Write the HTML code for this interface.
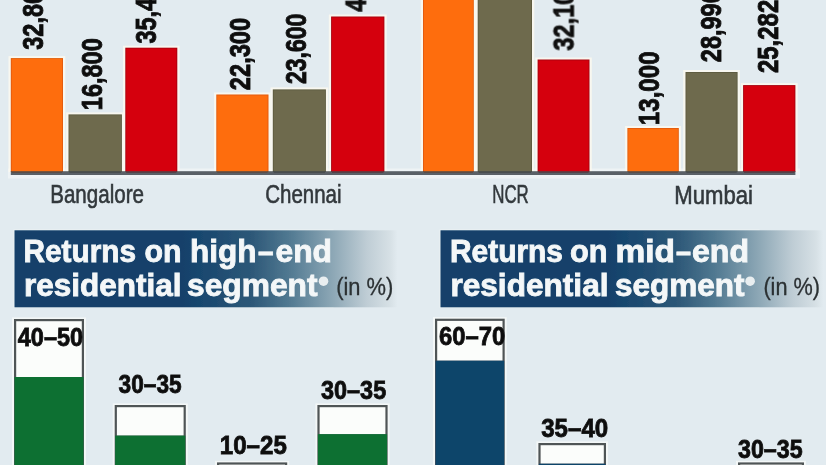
<!DOCTYPE html>
<html><head><meta charset="utf-8"><style>
html,body{margin:0;padding:0;background:#e2ebf0;}
svg{display:block;}
</style></head><body>
<svg width="826" height="465" viewBox="0 0 826 465">
<defs><filter id="soft" x="-2%" y="-2%" width="104%" height="104%"><feGaussianBlur stdDeviation="0.45" edgeMode="duplicate"/></filter></defs>
<g filter="url(#soft)">
<rect x="-10" y="-10" width="846" height="485" fill="#e2ebf0"/>
<rect x="8" y="168.5" width="792" height="10" fill="#f7f9f8" opacity="0.6"/>
<rect x="8.5" y="56.1" width="56.800000000000004" height="115.9" fill="#fbf8f0" opacity="0.9"/>
<rect x="10.8" y="58.1" width="52.2" height="113.9" fill="#e25a08"/>
<rect x="11.700000000000001" y="59.0" width="50.400000000000006" height="113.9" fill="#fe6d0b"/>
<rect x="66.2" y="112.4" width="58.00000000000001" height="59.599999999999994" fill="#fbf8f0" opacity="0.9"/>
<rect x="68.5" y="114.4" width="53.400000000000006" height="57.599999999999994" fill="#5d5b40"/>
<rect x="69.4" y="115.30000000000001" width="51.60000000000001" height="57.599999999999994" fill="#6e6a4d"/>
<rect x="123.0" y="45.7" width="56.600000000000016" height="126.3" fill="#fbf8f0" opacity="0.9"/>
<rect x="125.3" y="47.7" width="52.000000000000014" height="124.3" fill="#a8000c"/>
<rect x="126.2" y="48.6" width="50.20000000000002" height="124.3" fill="#d5000d"/>
<rect x="214.0" y="92.5" width="56.79999999999999" height="79.5" fill="#fbf8f0" opacity="0.9"/>
<rect x="216.3" y="94.5" width="52.19999999999999" height="77.5" fill="#e25a08"/>
<rect x="217.20000000000002" y="95.4" width="50.39999999999999" height="77.5" fill="#fe6d0b"/>
<rect x="270.5" y="87.4" width="57.69999999999997" height="84.6" fill="#fbf8f0" opacity="0.9"/>
<rect x="272.8" y="89.4" width="53.099999999999966" height="82.6" fill="#5d5b40"/>
<rect x="273.7" y="90.30000000000001" width="51.29999999999997" height="82.6" fill="#6e6a4d"/>
<rect x="328.8" y="14.5" width="57.899999999999956" height="157.5" fill="#fbf8f0" opacity="0.9"/>
<rect x="331.1" y="16.5" width="53.299999999999955" height="155.5" fill="#a8000c"/>
<rect x="332.0" y="17.4" width="51.49999999999996" height="155.5" fill="#d5000d"/>
<rect x="420.7" y="-7.0" width="55.40000000000001" height="179.0" fill="#fbf8f0" opacity="0.9"/>
<rect x="423.0" y="-5" width="50.80000000000001" height="177" fill="#e25a08"/>
<rect x="423.9" y="-4.1" width="49.000000000000014" height="177" fill="#fe6d0b"/>
<rect x="475.4" y="-7.0" width="58.90000000000001" height="179.0" fill="#fbf8f0" opacity="0.9"/>
<rect x="477.7" y="-5" width="54.30000000000001" height="177" fill="#5d5b40"/>
<rect x="478.59999999999997" y="-4.1" width="52.500000000000014" height="177" fill="#6e6a4d"/>
<rect x="535.3000000000001" y="57.5" width="56.49999999999998" height="114.5" fill="#fbf8f0" opacity="0.9"/>
<rect x="537.6" y="59.5" width="51.89999999999998" height="112.5" fill="#a8000c"/>
<rect x="538.5" y="60.4" width="50.09999999999998" height="112.5" fill="#d5000d"/>
<rect x="625.1" y="126.0" width="55.99999999999998" height="46.0" fill="#fbf8f0" opacity="0.9"/>
<rect x="627.4" y="128.0" width="51.39999999999998" height="44.0" fill="#e25a08"/>
<rect x="628.3" y="128.9" width="49.59999999999998" height="44.0" fill="#fe6d0b"/>
<rect x="683.2" y="70.0" width="56.700000000000024" height="102.0" fill="#fbf8f0" opacity="0.9"/>
<rect x="685.5" y="72.0" width="52.10000000000002" height="100.0" fill="#5d5b40"/>
<rect x="686.4" y="72.9" width="50.300000000000026" height="100.0" fill="#6e6a4d"/>
<rect x="740.8000000000001" y="83.1" width="56.899999999999956" height="88.9" fill="#fbf8f0" opacity="0.9"/>
<rect x="743.1" y="85.1" width="52.299999999999955" height="86.9" fill="#a8000c"/>
<rect x="744.0" y="86.0" width="50.49999999999996" height="86.9" fill="#d5000d"/>
<rect x="10.8" y="171.2" width="784.6" height="3.8" fill="#40464c" opacity="0.85"/>
<defs><linearGradient id="hg" x1="0" x2="1" y1="0" y2="0"><stop offset="0" stop-color="#12416b"/><stop offset="0.44" stop-color="#12416b"/><stop offset="0.62" stop-color="#2d5878"/><stop offset="0.72" stop-color="#527a92"/><stop offset="0.835" stop-color="#8fa9b7"/><stop offset="0.92" stop-color="#bfcdd5"/><stop offset="0.98" stop-color="#d6e0e5"/><stop offset="1" stop-color="#e2ebf0"/></linearGradient></defs>
<rect x="13.5" y="229.4" width="320" height="78.4" fill="#f3f6f6" opacity="0.6"/>
<rect x="14.5" y="230.3" width="383" height="77" fill="url(#hg)"/>
<circle cx="323.5" cy="281.2" r="4.8" fill="#e9eef0"/>
<rect x="439.5" y="229.4" width="320" height="78.4" fill="#f3f6f6" opacity="0.6"/>
<rect x="440.5" y="230.3" width="383" height="77" fill="url(#hg)"/>
<circle cx="750.1" cy="281.2" r="4.8" fill="#e9eef0"/>
<rect x="12" y="317.4" width="74" height="181" fill="#f6f9f8" opacity="0.85"/>
<rect x="14" y="319" width="70" height="181" fill="#505456"/>
<rect x="16.2" y="321.2" width="65.6" height="55.8" fill="#fbfdfb"/>
<rect x="14.5" y="377" width="69" height="200" fill="#0a7032"/>
<rect x="112.7" y="403.4" width="75.10000000000001" height="95" fill="#f6f9f8" opacity="0.85"/>
<rect x="114.7" y="405" width="71.10000000000001" height="95" fill="#505456"/>
<rect x="116.9" y="407.2" width="66.7" height="28.400000000000023" fill="#fbfdfb"/>
<rect x="115.2" y="435.6" width="70.10000000000001" height="200" fill="#0a7032"/>
<rect x="215" y="460.79999999999995" width="74.19999999999999" height="37.60000000000002" fill="#f6f9f8" opacity="0.85"/>
<rect x="217" y="462.4" width="70.19999999999999" height="37.60000000000002" fill="#505456"/>
<rect x="219.2" y="464.59999999999997" width="65.79999999999998" height="5.400000000000023" fill="#fbfdfb"/>
<rect x="217.5" y="470" width="69.19999999999999" height="200" fill="#0a7032"/>
<rect x="315.4" y="403.4" width="74.20000000000005" height="95" fill="#f6f9f8" opacity="0.85"/>
<rect x="317.4" y="405" width="70.20000000000005" height="95" fill="#505456"/>
<rect x="319.59999999999997" y="407.2" width="65.80000000000004" height="26.99999999999999" fill="#fbfdfb"/>
<rect x="317.9" y="434.2" width="69.20000000000005" height="200" fill="#0a7032"/>
<rect x="433" y="317.09999999999997" width="73.69999999999999" height="181.3" fill="#f6f9f8" opacity="0.85"/>
<rect x="435" y="318.7" width="69.69999999999999" height="181.3" fill="#505456"/>
<rect x="437.2" y="320.9" width="65.29999999999998" height="39.8" fill="#fbfdfb"/>
<rect x="435.5" y="360.7" width="68.69999999999999" height="200" fill="#11446a"/>
<rect x="536.4" y="441.4" width="71.60000000000002" height="57" fill="#f6f9f8" opacity="0.85"/>
<rect x="538.4" y="443" width="67.60000000000002" height="57" fill="#505456"/>
<rect x="540.6" y="445.2" width="63.200000000000024" height="18.49999999999999" fill="#fbfdfb"/>
<rect x="538.9" y="463.7" width="66.60000000000002" height="200" fill="#11446a"/>
<rect x="736" y="460.79999999999995" width="70" height="37.60000000000002" fill="#f6f9f8" opacity="0.85"/>
<rect x="738" y="462.4" width="66" height="37.60000000000002" fill="#505456"/>
<rect x="740.2" y="464.59999999999997" width="61.6" height="5.400000000000023" fill="#fbfdfb"/>
<rect x="738.5" y="470" width="65" height="200" fill="#11446a"/>
<text id="r1" transform="translate(42.60,49.80) rotate(-90)" textLength="72.00" lengthAdjust="spacingAndGlyphs" font-family="Liberation Sans" font-weight="bold" font-size="29.5" fill="#111" stroke="#111" stroke-width="0.9">32,800</text>
<text id="r2" transform="translate(102.20,110.20) rotate(-90)" textLength="72.00" lengthAdjust="spacingAndGlyphs" font-family="Liberation Sans" font-weight="bold" font-size="29.5" fill="#111" stroke="#111" stroke-width="0.9">16,800</text>
<text id="r3" transform="translate(156.40,43.60) rotate(-90)" textLength="72.00" lengthAdjust="spacingAndGlyphs" font-family="Liberation Sans" font-weight="bold" font-size="29.5" fill="#111" stroke="#111" stroke-width="0.9">35,400</text>
<text id="r4" transform="translate(250.00,90.20) rotate(-90)" textLength="72.40" lengthAdjust="spacingAndGlyphs" font-family="Liberation Sans" font-weight="bold" font-size="29.5" fill="#111" stroke="#111" stroke-width="0.9">22,300</text>
<text id="r5" transform="translate(306.20,84.00) rotate(-90)" textLength="70.40" lengthAdjust="spacingAndGlyphs" font-family="Liberation Sans" font-weight="bold" font-size="29.5" fill="#111" stroke="#111" stroke-width="0.9">23,600</text>
<text id="r6" transform="translate(365.80,11.80) rotate(-90)" textLength="72.00" lengthAdjust="spacingAndGlyphs" font-family="Liberation Sans" font-weight="bold" font-size="29.5" fill="#111" stroke="#111" stroke-width="0.9">40,700</text>
<text id="r7" transform="translate(573.60,50.60) rotate(-90)" textLength="72.00" lengthAdjust="spacingAndGlyphs" font-family="Liberation Sans" font-weight="bold" font-size="29.5" fill="#111" stroke="#111" stroke-width="0.9">32,100</text>
<text id="r8" transform="translate(659.40,125.20) rotate(-90)" textLength="73.80" lengthAdjust="spacingAndGlyphs" font-family="Liberation Sans" font-weight="bold" font-size="29.5" fill="#111" stroke="#111" stroke-width="0.9">13,000</text>
<text id="r9" transform="translate(721.00,62.20) rotate(-90)" textLength="72.00" lengthAdjust="spacingAndGlyphs" font-family="Liberation Sans" font-weight="bold" font-size="29.5" fill="#111" stroke="#111" stroke-width="0.9">28,990</text>
<text id="r10" transform="translate(778.00,73.00) rotate(-90)" textLength="73.20" lengthAdjust="spacingAndGlyphs" font-family="Liberation Sans" font-weight="bold" font-size="29.5" fill="#111" stroke="#111" stroke-width="0.9">25,282</text>
<text id="c1" x="50.20" y="203.32" textLength="93.80" lengthAdjust="spacingAndGlyphs" font-family="Liberation Sans" font-weight="normal" font-size="26" fill="#32383c" stroke="#32383c" stroke-width="0.6">Bangalore</text>
<text id="c2" x="265.20" y="203.32" textLength="76.40" lengthAdjust="spacingAndGlyphs" font-family="Liberation Sans" font-weight="normal" font-size="26" fill="#32383c" stroke="#32383c" stroke-width="0.6">Chennai</text>
<text id="c3" x="492.20" y="202.72" textLength="36.60" lengthAdjust="spacingAndGlyphs" font-family="Liberation Sans" font-weight="normal" font-size="26" fill="#32383c" stroke="#32383c" stroke-width="0.6">NCR</text>
<text id="c4" x="674.20" y="204.12" textLength="78.80" lengthAdjust="spacingAndGlyphs" font-family="Liberation Sans" font-weight="normal" font-size="26" fill="#32383c" stroke="#32383c" stroke-width="0.6">Mumbai</text>
<text id="h1a" x="23.50" y="261.50" textLength="112.50" lengthAdjust="spacingAndGlyphs" font-family="Liberation Sans" font-weight="bold" font-size="32" fill="#f4f7f8" stroke="#f4f7f8" stroke-width="0.9">Returns</text>
<text id="h1b" x="144.50" y="261.50" textLength="37.00" lengthAdjust="spacingAndGlyphs" font-family="Liberation Sans" font-weight="bold" font-size="32" fill="#f4f7f8" stroke="#f4f7f8" stroke-width="0.9">on</text>
<text id="h1c" x="190.00" y="261.50" textLength="66.50" lengthAdjust="spacingAndGlyphs" font-family="Liberation Sans" font-weight="bold" font-size="32" fill="#f4f7f8" stroke="#f4f7f8" stroke-width="0.9">high</text>
<text id="h1d" x="258.00" y="261.50" textLength="15.50" lengthAdjust="spacingAndGlyphs" font-family="Liberation Sans" font-weight="bold" font-size="32" fill="#f4f7f8" stroke="#f4f7f8" stroke-width="0.9">–</text>
<text id="h1e" x="275.50" y="261.50" textLength="56.50" lengthAdjust="spacingAndGlyphs" font-family="Liberation Sans" font-weight="bold" font-size="32" fill="#f4f7f8" stroke="#f4f7f8" stroke-width="0.9">end</text>
<text id="h2a" x="24.00" y="296.20" textLength="157.50" lengthAdjust="spacingAndGlyphs" font-family="Liberation Sans" font-weight="bold" font-size="32" fill="#f4f7f8" stroke="#f4f7f8" stroke-width="0.9">residential</text>
<text id="h2b" x="187.00" y="296.20" textLength="130.50" lengthAdjust="spacingAndGlyphs" font-family="Liberation Sans" font-weight="bold" font-size="32" fill="#f4f7f8" stroke="#f4f7f8" stroke-width="0.9">segment</text>
<text id="h3a" x="450.00" y="261.50" textLength="113.00" lengthAdjust="spacingAndGlyphs" font-family="Liberation Sans" font-weight="bold" font-size="32" fill="#f4f7f8" stroke="#f4f7f8" stroke-width="0.9">Returns</text>
<text id="h3b" x="570.00" y="261.50" textLength="37.50" lengthAdjust="spacingAndGlyphs" font-family="Liberation Sans" font-weight="bold" font-size="32" fill="#f4f7f8" stroke="#f4f7f8" stroke-width="0.9">on</text>
<text id="h3c" x="615.50" y="261.50" textLength="59.50" lengthAdjust="spacingAndGlyphs" font-family="Liberation Sans" font-weight="bold" font-size="32" fill="#f4f7f8" stroke="#f4f7f8" stroke-width="0.9">mid</text>
<text id="h3d" x="676.00" y="261.50" textLength="15.00" lengthAdjust="spacingAndGlyphs" font-family="Liberation Sans" font-weight="bold" font-size="32" fill="#f4f7f8" stroke="#f4f7f8" stroke-width="0.9">–</text>
<text id="h3e" x="692.00" y="261.50" textLength="57.00" lengthAdjust="spacingAndGlyphs" font-family="Liberation Sans" font-weight="bold" font-size="32" fill="#f4f7f8" stroke="#f4f7f8" stroke-width="0.9">end</text>
<text id="h4a" x="450.40" y="296.20" textLength="158.10" lengthAdjust="spacingAndGlyphs" font-family="Liberation Sans" font-weight="bold" font-size="32" fill="#f4f7f8" stroke="#f4f7f8" stroke-width="0.9">residential</text>
<text id="h4b" x="615.00" y="296.20" textLength="129.50" lengthAdjust="spacingAndGlyphs" font-family="Liberation Sans" font-weight="bold" font-size="32" fill="#f4f7f8" stroke="#f4f7f8" stroke-width="0.9">segment</text>
<text id="i1" x="336.20" y="294.56" textLength="57.20" lengthAdjust="spacingAndGlyphs" font-family="Liberation Sans" font-weight="normal" font-size="23" fill="#2b3033" stroke="#2b3033" stroke-width="0.3">(in %)</text>
<text id="i2" x="763.40" y="294.56" textLength="56.60" lengthAdjust="spacingAndGlyphs" font-family="Liberation Sans" font-weight="normal" font-size="23" fill="#2b3033" stroke="#2b3033" stroke-width="0.3">(in %)</text>
<text id="b1" x="17.80" y="345.80" textLength="65.40" lengthAdjust="spacingAndGlyphs" font-family="Liberation Sans" font-weight="bold" font-size="25" fill="#111" stroke="#111" stroke-width="0.8">40–50</text>
<text id="b2" x="118.60" y="393.00" textLength="63.00" lengthAdjust="spacingAndGlyphs" font-family="Liberation Sans" font-weight="bold" font-size="25" fill="#111" stroke="#111" stroke-width="0.8">30–35</text>
<text id="b3" x="219.80" y="454.40" textLength="67.00" lengthAdjust="spacingAndGlyphs" font-family="Liberation Sans" font-weight="bold" font-size="25" fill="#111" stroke="#111" stroke-width="0.8">10–25</text>
<text id="b4" x="321.00" y="399.40" textLength="65.20" lengthAdjust="spacingAndGlyphs" font-family="Liberation Sans" font-weight="bold" font-size="25" fill="#111" stroke="#111" stroke-width="0.8">30–35</text>
<text id="b5" x="439.00" y="345.00" textLength="66.20" lengthAdjust="spacingAndGlyphs" font-family="Liberation Sans" font-weight="bold" font-size="25" fill="#111" stroke="#111" stroke-width="0.8">60–70</text>
<text id="b6" x="541.20" y="437.40" textLength="67.00" lengthAdjust="spacingAndGlyphs" font-family="Liberation Sans" font-weight="bold" font-size="25" fill="#111" stroke="#111" stroke-width="0.8">35–40</text>
<text id="b7" x="738.00" y="458.00" textLength="64.60" lengthAdjust="spacingAndGlyphs" font-family="Liberation Sans" font-weight="bold" font-size="25" fill="#111" stroke="#111" stroke-width="0.8">30–35</text>
</g>
</svg>
</body></html>
